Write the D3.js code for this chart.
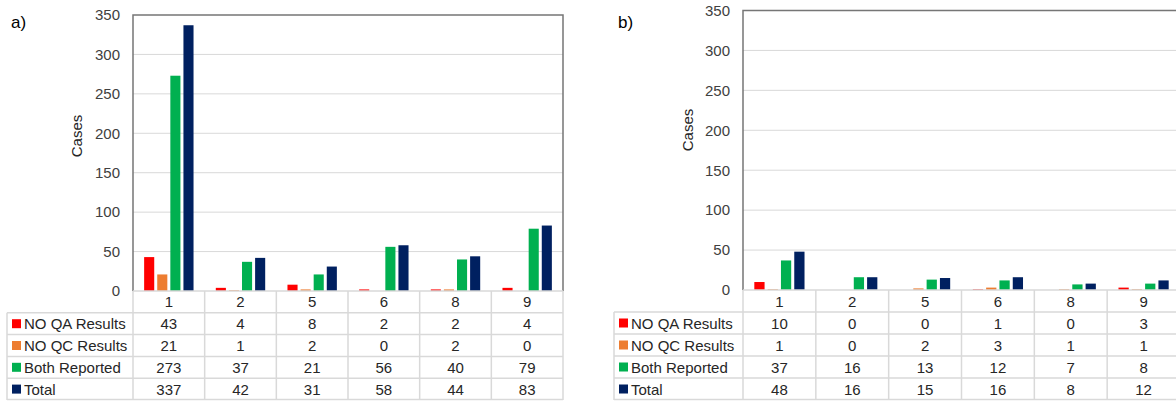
<!DOCTYPE html>
<html>
<head>
<meta charset="utf-8">
<script src="https://cdn.jsdelivr.net/npm/d3@7"></script>
<style>
  body { margin: 0; background: #fff; }
  svg { display: block; font-family: "Liberation Sans", Arial, sans-serif; }
</style>
</head>
<body>
<svg id="chart" width="1176" height="402"></svg>
<script>
var categories = ["1", "2", "5", "6", "8", "9"];
var seriesNames = ["NO QA Results", "NO QC Results", "Both Reported", "Total"];
var seriesColors = ["#ff0000", "#ed7d31", "#00b050", "#002060"];
var yTicks = [0, 50, 100, 150, 200, 250, 300, 350];

// panel a
var aNoQA = [43, 4, 8, 2, 2, 4];
var aNoQC = [21, 1, 2, 0, 2, 0];
var aBoth = [273, 37, 21, 56, 40, 79];
var aTotal = [337, 42, 31, 58, 44, 83];

// panel b
var bNoQA = [10, 0, 0, 1, 0, 3];
var bNoQC = [1, 0, 2, 3, 1, 1];
var bBoth = [37, 16, 13, 12, 7, 8];
var bTotal = [48, 16, 15, 16, 8, 12];

var svg = d3.select("#chart");

function drawPanel(p) {
    var g = svg.append("g");
    var series = [p.values[0], p.values[1], p.values[2], p.values[3]];

    var x = d3.scaleBand().domain(categories).range([p.left, p.right]);
    var x1 = d3.scaleBand().domain(d3.range(4)).range([0, x.bandwidth()])
        .paddingInner(0.23).paddingOuter(0.85);
    var y = d3.scaleLinear().domain([0, 350]).range([p.zero, p.top]);

    // gridlines
    g.append("g").selectAll("line")
        .data(yTicks.slice(1, -1))
        .enter().append("line")
        .attr("x1", p.left).attr("x2", p.right)
        .attr("y1", function(d) { return y(d); })
        .attr("y2", function(d) { return y(d); })
        .attr("stroke", "#d9d9d9").attr("stroke-width", 1);

    // bars
    var groups = g.append("g").selectAll("g")
        .data(categories)
        .enter().append("g")
        .attr("transform", function(d) { return "translate(" + x(d) + ",0)"; });
    groups.selectAll("rect")
        .data(function(d, i) {
            return series.map(function(s, k) { return { k: k, v: s[i] }; });
        })
        .enter().append("rect")
        .attr("x", function(d) { return x1(d.k); })
        .attr("width", x1.bandwidth())
        .attr("y", function(d) { return y(d.v); })
        .attr("height", function(d) { return p.zero - y(d.v); })
        .attr("fill", function(d) { return seriesColors[d.k]; });

    // y axis
    var yAxis = d3.axisLeft(y).tickValues(yTicks).tickSize(0).tickPadding(13);
    var ax = g.append("g")
        .attr("transform", "translate(" + p.left + ",0)")
        .call(yAxis);
    ax.select(".domain").remove();
    ax.selectAll("text")
        .attr("font-size", "15px")
        .attr("fill", "#404040")
        .attr("font-family", "Liberation Sans, Arial, sans-serif");

    // plot border
    g.append("path")
        .attr("d", "M" + p.left + "," + p.zero + "V" + p.top + "H" + p.right + "V" + p.zero)
        .attr("fill", "none")
        .attr("stroke", "#767676")
        .attr("stroke-width", 1.5);

    // axis title
    g.append("text")
        .text("Cases")
        .attr("transform", "translate(" + p.titleX + "," + p.titleY + ") rotate(-90)")
        .attr("text-anchor", "middle")
        .attr("font-size", "15px")
        .attr("fill", "#262626");

    // panel letter
    g.append("text")
        .text(p.letter)
        .attr("x", p.letterX).attr("y", 28)
        .attr("font-size", "17px")
        .attr("fill", "#000");

    // data table
    var rowY = d3.scaleBand().domain(["cat"].concat(seriesNames))
        .range([p.zero, p.bottom]);
    var rh = rowY.bandwidth();
    var t = g.append("g");
    var lineColor = "#d9d9d9";

    // horizontal lines
    t.append("line")
        .attr("x1", p.left).attr("x2", p.right)
        .attr("y1", p.zero).attr("y2", p.zero)
        .attr("stroke", lineColor).attr("stroke-width", 1.5);
    t.selectAll("line.h")
        .data(seriesNames)
        .enter().append("line")
        .attr("class", "h")
        .attr("x1", p.tableLeft).attr("x2", p.right)
        .attr("y1", function(d) { return rowY(d); })
        .attr("y2", function(d) { return rowY(d); })
        .attr("stroke", lineColor).attr("stroke-width", 1.5);
    t.append("line")
        .attr("x1", p.tableLeft).attr("x2", p.right)
        .attr("y1", p.bottom - 0.5).attr("y2", p.bottom - 0.5)
        .attr("stroke", lineColor).attr("stroke-width", 1.5);

    // vertical lines
    var vx = categories.map(function(c) { return x(c); }).concat([p.right]);
    t.selectAll("line.v")
        .data(vx)
        .enter().append("line")
        .attr("class", "v")
        .attr("x1", function(d) { return d; }).attr("x2", function(d) { return d; })
        .attr("y1", p.zero).attr("y2", p.bottom)
        .attr("stroke", lineColor).attr("stroke-width", 1.5);
    t.append("line")
        .attr("x1", p.tableLeft).attr("x2", p.tableLeft)
        .attr("y1", rowY(seriesNames[0])).attr("y2", p.bottom)
        .attr("stroke", lineColor).attr("stroke-width", 1.5);

    // category labels
    t.selectAll("text.cat")
        .data(categories)
        .enter().append("text")
        .attr("class", "cat")
        .attr("x", function(d) { return x(d) + x.bandwidth() / 2; })
        .attr("y", rowY("cat") + rh / 2 + 5.5)
        .attr("text-anchor", "middle")
        .attr("font-size", "15px")
        .attr("fill", "#262626")
        .text(function(d) { return d; });

    // legend keys + values
    seriesNames.forEach(function(name, k) {
        var cy = rowY(name) + rh / 2;
        t.append("rect")
            .attr("x", p.tableLeft + 5).attr("y", cy - 4.5)
            .attr("width", 9).attr("height", 9)
            .attr("fill", seriesColors[k]);
        t.append("text")
            .attr("x", p.tableLeft + 17).attr("y", cy + 5.5)
            .attr("font-size", "15px")
            .attr("fill", "#262626")
            .text(name);
        t.selectAll("text.v" + k)
            .data(series[k])
            .enter().append("text")
            .attr("class", "v" + k)
            .attr("x", function(d, i) { return x(categories[i]) + x.bandwidth() / 2; })
            .attr("y", cy + 5.5)
            .attr("text-anchor", "middle")
            .attr("font-size", "15px")
            .attr("fill", "#262626")
            .text(function(d) { return d; });
    });
}

drawPanel({
    values: [aNoQA, aNoQC, aBoth, aTotal],
    left: 133, right: 563, top: 15, zero: 291, bottom: 400,
    tableLeft: 7, titleX: 82, titleY: 136, letter: "a)", letterX: 11
});

drawPanel({
    values: [bNoQA, bNoQC, bBoth, bTotal],
    left: 743, right: 1180, top: 10.5, zero: 290, bottom: 400,
    tableLeft: 614, titleX: 693, titleY: 130, letter: "b)", letterX: 618
});
</script>
</body>
</html>
